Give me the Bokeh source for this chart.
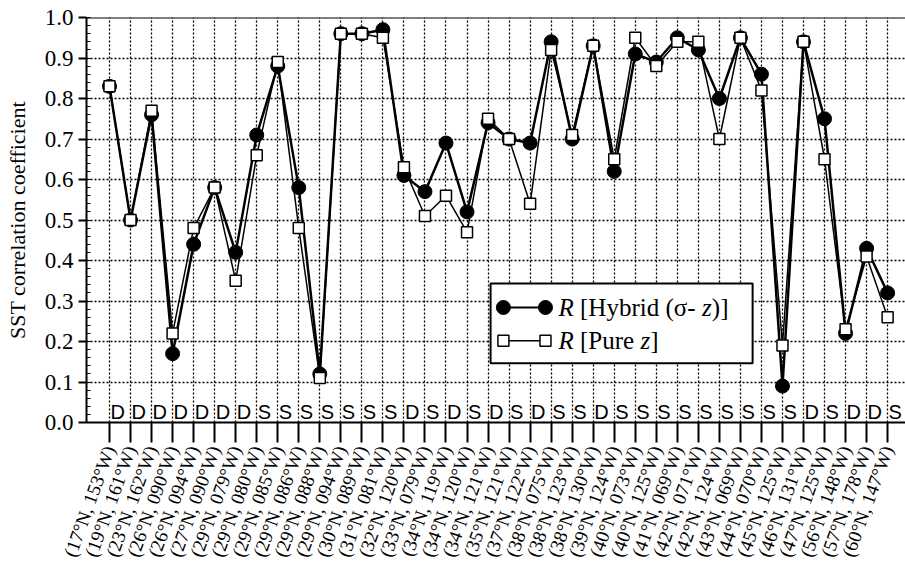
from bokeh.plotting import figure
from bokeh.models import Range1d, FixedTicker, ColumnDataSource, Span, Label, NumeralTickFormatter
from bokeh.core.properties import value
from bokeh.embed import file_html
from bokeh.resources import INLINE

# ---------------- data ----------------
lats = [17, 19, 23, 26, 26, 27, 29, 29, 29, 29, 29, 29, 30,
        31, 32, 33, 34, 34, 34, 35, 37, 38, 38, 38, 39, 40,
        40, 41, 42, 42, 43, 44, 45, 46, 47, 56, 57, 60]
lons = ["153", "161", "162", "090", "094", "090", "079", "080", "085", "086", "088", "094", "089",
        "081", "120", "079", "119", "120", "121", "121", "122", "075", "123", "130", "124", "073",
        "125", "069", "071", "124", "069", "070", "125", "131", "125", "148", "178", "147"]
site_type = ["D", "D", "D", "D", "D", "D", "D", "S", "S", "S", "S", "S", "S", "S",
             "D", "S", "D", "S", "D", "S", "D", "S", "S", "D",
             "S", "S", "S", "S", "S", "S", "S", "S", "S",
             "D", "S", "D", "D", "S"]
r_hybrid = [0.83, 0.50, 0.76, 0.17, 0.44, 0.58, 0.42, 0.71, 0.88, 0.58, 0.12, 0.96, 0.96,
            0.97, 0.61, 0.57, 0.69, 0.52, 0.74, 0.70, 0.69, 0.94, 0.70, 0.93, 0.62, 0.91,
            0.89, 0.95, 0.92, 0.80, 0.95, 0.86, 0.09, 0.94, 0.75, 0.22, 0.43, 0.32]
r_pure = [0.83, 0.50, 0.77, 0.22, 0.48, 0.58, 0.35, 0.66, 0.89, 0.48, 0.11, 0.96, 0.96,
          0.95, 0.63, 0.51, 0.56, 0.47, 0.75, 0.70, 0.54, 0.92, 0.71, 0.93, 0.65, 0.95,
          0.88, 0.94, 0.94, 0.70, 0.95, 0.82, 0.19, 0.94, 0.65, 0.23, 0.41, 0.26]
y_ticks = [0.0, 0.1, 0.2, 0.3, 0.4, 0.5, 0.6, 0.7, 0.8, 0.9, 1.0]

labels = ["(%d°N, %s°W)" % (la, lo) for la, lo in zip(lats, lons)]
xs = list(range(len(labels)))

SERIF = "Liberation Serif"
SANS = "Liberation Sans"

src = ColumnDataSource(dict(x=xs, hybrid=r_hybrid, pure=r_pure, site=site_type))

p = figure(width=905, height=566, x_range=Range1d(-1.094, 37.85), y_range=Range1d(0, 1.0),
           output_backend="svg", toolbar_location=None,
           min_border_left=86, min_border_top=17, min_border_right=0, min_border_bottom=144)
p.outline_line_color = None
p.background_fill_color = "white"
p.border_fill_color = "white"

# grids
p.xgrid.ticker = FixedTicker(ticks=xs)
p.ygrid.ticker = FixedTicker(ticks=y_ticks)
for g in (p.xgrid, p.ygrid):
    g.grid_line_color = "black"
    g.grid_line_dash = "2 2"
    g.grid_line_width = 1.3

# top border
p.add_layout(Span(location=1.0, dimension="width", line_color="black", line_width=2))

# x axis
xa = p.xaxis[0]
xa.ticker = FixedTicker(ticks=xs)
xa.major_label_overrides = {i: lab for i, lab in enumerate(labels)}
xa.major_label_orientation = 1.22
xa.major_tick_out = 20
xa.major_tick_in = 0
xa.major_tick_line_width = 2
xa.minor_tick_line_color = None
xa.axis_line_width = 2
xa.major_label_text_font = SERIF
xa.major_label_text_font_size = "19px"
xa.major_label_text_font_style = "normal"
xa.major_label_text_color = "black"
xa.major_label_standoff = 4

# y axis
ya = p.yaxis[0]
ya.ticker = FixedTicker(ticks=y_ticks, minor_ticks=[round(0.02 * i, 2) for i in range(51)])
ya.formatter = NumeralTickFormatter(format="0.0")
ya.major_tick_out = 8
ya.major_tick_in = 0
ya.minor_tick_in = 4
ya.minor_tick_out = 0
ya.major_tick_line_width = 2
ya.axis_line_width = 2
ya.major_label_text_font = SERIF
ya.major_label_text_font_size = "23px"
ya.major_label_text_color = "black"
ya.major_label_standoff = 5
ya.axis_label = "SST correlation coefficient"
ya.axis_label_text_font = SERIF
ya.axis_label_text_font_size = "22px"
ya.axis_label_text_font_style = "normal"
ya.axis_label_text_color = "black"
ya.axis_label_standoff = 12

# series
p.line("x", "hybrid", source=src, line_color="black", line_width=2.5)
p.line("x", "pure", source=src, line_color="black", line_width=1.5)
p.scatter("x", "hybrid", source=src, marker="circle", size=14, fill_color="black", line_color="black")
p.scatter("x", "pure", source=src, marker="square", size=11, fill_color="white",
          line_color="black", line_width=1.5)

# site type letters (deep / shelf)
p.text("x", 0, text="site", source=src, text_font=value(SANS), text_font_size=value("20px"),
       text_align="left", text_baseline="bottom", x_offset=1, y_offset=0,
       text_color="black")

# manual legend (layout positions)
LEG_L, LEG_R, LEG_T, LEG_B = 18.12, 30.58, 0.343, 0.146
ROW1, ROW2 = 0.284, 0.202
MK_X = [18.73, 20.73]
TXT_X = 21.35
p.quad(left=[LEG_L], right=[LEG_R], top=[LEG_T], bottom=[LEG_B], fill_color="white",
       line_color="black", line_width=2)
p.line(MK_X, [ROW1, ROW1], line_color="black", line_width=2)
p.scatter(MK_X, [ROW1, ROW1], marker="circle", size=14, fill_color="black", line_color="black")
p.line(MK_X, [ROW2, ROW2], line_color="black", line_width=1.5)
p.scatter(MK_X, [ROW2, ROW2], marker="square", size=11, fill_color="white", line_color="black",
          line_width=1.5)

FS = 25
def piece(txt, row, off, italic=False):
    p.add_layout(Label(x=TXT_X, y=row, text=txt, x_offset=off, text_font=SERIF,
                       text_font_size="%dpx" % FS, text_font_style="italic" if italic else "normal",
                       text_baseline="middle", text_align="left", text_color="black"))

sp = 0.25 * FS
r_w = 0.611 * FS
z_w = 0.389 * FS
o1 = r_w + sp
piece("R", ROW1, 0, True)
piece("[Hybrid (σ-", ROW1, o1)
oz = o1 + 4.632 * FS + sp
piece("z", ROW1, oz, True)
piece(")]", ROW1, oz + z_w)
piece("R", ROW2, 0, True)
piece("[Pure", ROW2, o1)
oz2 = o1 + 2.166 * FS + sp
piece("z", ROW2, oz2, True)
piece("]", ROW2, oz2 + z_w)

open("out.html", "w").write(file_html(p, INLINE))
